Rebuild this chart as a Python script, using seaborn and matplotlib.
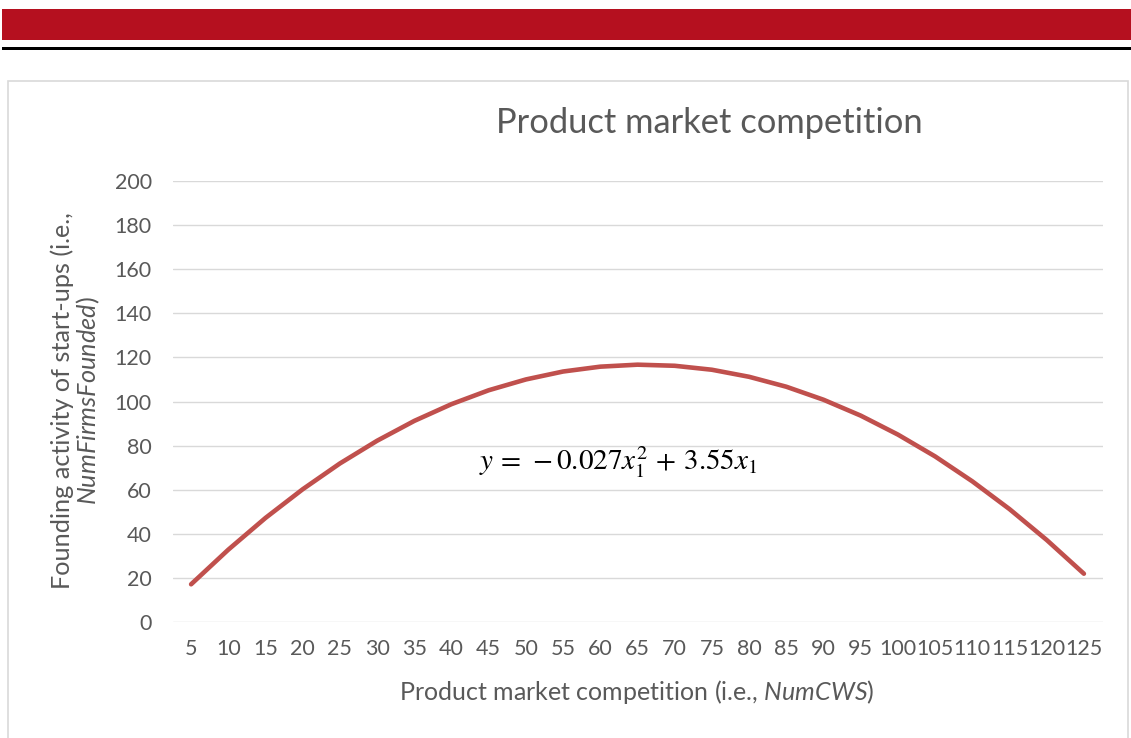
import numpy as np
import pandas as pd
import matplotlib
matplotlib.use("Agg")
import matplotlib.pyplot as plt
from matplotlib.patches import Rectangle
import seaborn as sns

# ---- data ----
categories = [5, 10, 15, 20, 25, 30, 35, 40, 45, 50, 55, 60, 65,
              70, 75, 80, 85, 90, 95, 100, 105, 110, 115, 120, 125]
founding = [17.1, 32.8, 47.2, 60.2, 71.9, 82.2, 91.2, 98.8, 105.1, 110.0,
            113.6, 115.8, 116.7, 116.2, 114.4, 111.2, 106.7, 100.8, 93.6,
            85.0, 75.1, 63.8, 51.2, 37.2, 21.9]
yticks = [0, 20, 40, 60, 80, 100, 120, 140, 160, 180, 200]

title = "Product market competition"
xlabel = r"Product market competition (i.e., $\mathit{NumCWS}$)"
ylabel = "Founding activity of start-ups (i.e.,\n" + r"$\mathit{NumFirmsFounded}$)"
equation = r"$y\,=\,-0.027x_1^2\,+\,3.55x_1$"

sns.set_theme(style="white")
plt.rcParams['font.family'] = ['Lato', 'DejaVu Sans']
plt.rcParams['mathtext.fontset'] = 'custom'
plt.rcParams['mathtext.rm'] = 'Lato'
plt.rcParams['mathtext.it'] = 'Lato:italic'
plt.rcParams['mathtext.bf'] = 'Lato:bold'

W, H = 1131, 738
fig = plt.figure(figsize=(W / 100, H / 100), dpi=100)
fig.patch.set_facecolor("white")

# banner and rule
fig.patches.append(Rectangle((2 / W, 1 - 40 / H), 1, 31 / H, transform=fig.transFigure,
                             facecolor="#B5101F", edgecolor="none", zorder=0))
fig.patches.append(Rectangle((2 / W, 1 - 50 / H), 1, 3 / H, transform=fig.transFigure,
                             facecolor="black", edgecolor="none", zorder=0))
# chart border
fig.patches.append(Rectangle((7.5 / W, -0.05), (1128 - 7.5) / W, 1 - 81 / H + 0.05,
                             transform=fig.transFigure, facecolor="none",
                             edgecolor="#D9D9D9", linewidth=1.2, zorder=0))

ax = fig.add_axes([172.5 / W, 1 - 622 / H, 930 / W, (622 - 181) / H])
ax.set_facecolor("none")

df = pd.DataFrame({"pos": np.arange(len(categories)), "val": founding})
sns.lineplot(data=df, x="pos", y="val", ax=ax, color="#C0504D", linewidth=3.3,
             clip_on=False, zorder=3)

ax.set_xlim(-0.5, len(categories) - 0.5)
ax.set_ylim(0, 200)
ax.set_yticks(yticks)
ax.set_yticklabels([str(v) for v in yticks])
ax.set_xticks(np.arange(len(categories)))
ax.set_xticklabels([str(c) for c in categories])
ax.grid(axis="y", color="#D9D9D9", linewidth=1.0)
ax.grid(axis="x", visible=False)
for s in ax.spines.values():
    s.set_visible(False)
ax.tick_params(axis="both", length=0, labelsize=15.5, labelcolor="#595959")
ax.tick_params(axis="x", pad=12)
ax.tick_params(axis="y", pad=15)
ax.set_xlabel("")
ax.set_ylabel("")

fig.text(709 / W, 1 - 123 / H, title, ha="center", va="center",
         fontsize=24.8, color="#595959")
fig.text(637 / W, 1 - 692 / H, xlabel, ha="center", va="center",
         fontsize=18, color="#595959")
fig.text(76 / W, 1 - 401 / H, ylabel, ha="center", va="center", rotation=90,
         multialignment="center", fontsize=18.2, color="#595959", linespacing=1.0)
fig.text(618 / W, 1 - 462 / H, equation, ha="center", va="center",
         fontsize=21, color="black", math_fontfamily="stix")

fig.savefig("out.png", dpi=100)
